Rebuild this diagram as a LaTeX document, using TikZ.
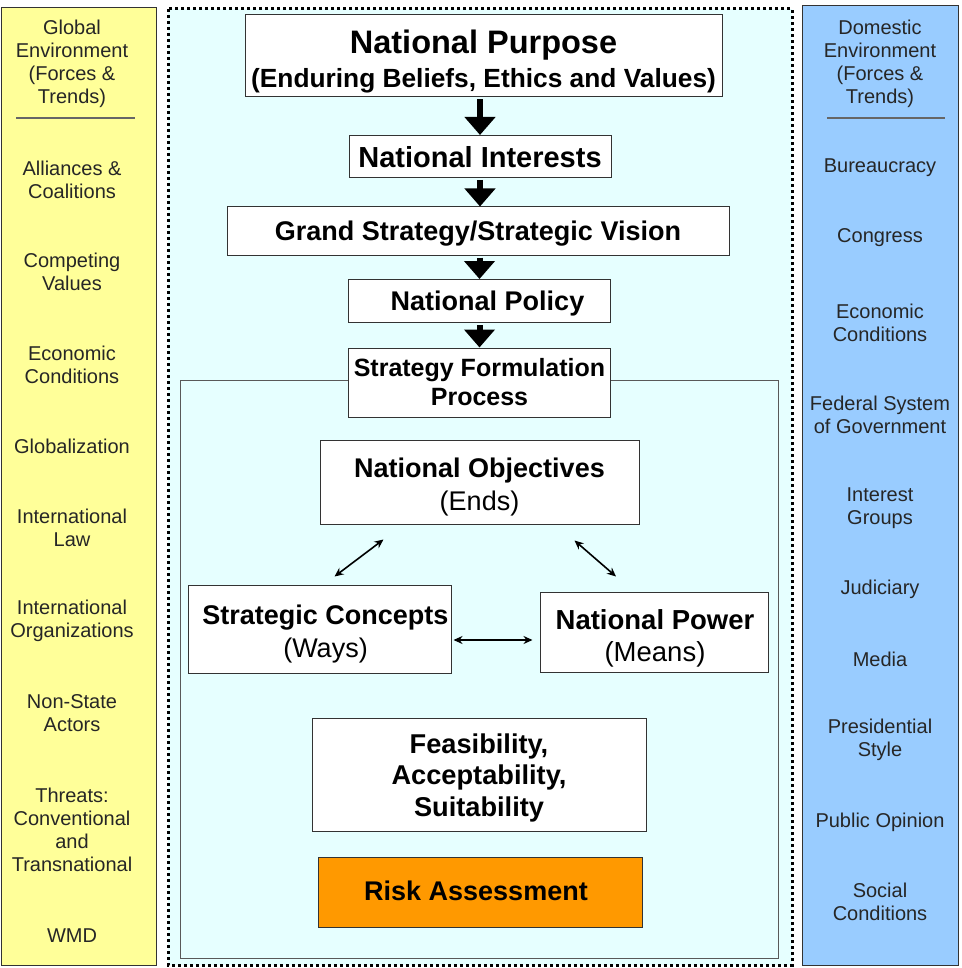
\documentclass[tikz,border=0pt]{standalone}
\usepackage{fontspec}
\setmainfont{Liberation Sans}
\usetikzlibrary{arrows.meta,calc}
\definecolor{panelyellow}{HTML}{FFFF99}
\definecolor{panelblue}{HTML}{99CCFF}
\definecolor{centercyan}{HTML}{E6FFFF}
\definecolor{riskorange}{HTML}{FF9900}
\definecolor{edgegray}{HTML}{333333}
\tikzset{
  bx/.style={draw=edgegray, fill=white, line width=1pt, inner sep=0pt},
  bxt/.style={inner sep=0pt, align=center, font=\bfseries\fontsize{27}{32}\selectfont},
  paneltext/.style={align=center, inner sep=0pt, text=black!85,
    font=\fontsize{20}{23}\selectfont},
  flowarrow/.style={line width=6pt, -{Triangle[width=30pt,length=18pt]}, shorten <=2pt},
  dblarrow/.style={line width=1.6pt, {Stealth[length=9pt,width=8pt]}-{Stealth[length=9pt,width=8pt]}},
}
\begin{document}
\begin{tikzpicture}[x=1pt,y=-1pt]
\useasboundingbox (0,0) rectangle (961,968);
% side panels
\draw[fill=panelyellow, draw=edgegray, line width=1pt] (1,8) rectangle (156,965);
\draw[fill=panelblue, draw=edgegray, line width=1pt] (802,6) rectangle (958,965);
% central area
\fill[centercyan] (168,9) rectangle (792,965);
\draw[line width=3pt, dash pattern=on 3pt off 3pt] (168,9) rectangle (792,965);
\draw[draw=black!65, line width=1pt] (180,380) rectangle (778,958);

% left panel
\node[paneltext] (lhead) at (72,64) {Global\\Environment\\(Forces \&\\Trends)};
\draw[black!60, line width=1.5pt] (16,118) -- (135,118);
\node[paneltext] (l1) at (72,180) {Alliances \&\\Coalitions};
\node[paneltext] (l2) at (72,272) {Competing\\Values};
\node[paneltext] (l3) at (72,365) {Economic\\Conditions};
\node[paneltext] (l4) at (72,446) {Globalization};
\node[paneltext] (l5) at (72,528) {International\\Law};
\node[paneltext] (l6) at (72,621) {International\\Organizations};
\node[paneltext] (l7) at (72,713) {Non-State\\Actors};
\node[paneltext] (l8) at (72,830) {Threats:\\Conventional\\and\\Transnational};
\node[paneltext] (l9) at (72,936) {WMD};

% right panel
\node[paneltext] (rhead) at (880,64) {Domestic\\Environment\\(Forces \&\\Trends)};
\draw[black!60, line width=1.5pt] (827,118) -- (945,118);
\node[paneltext] (r1) at (880,168) {Bureaucracy};
\node[paneltext] (r2) at (880,238) {Congress};
\node[paneltext] (r3) at (880,323) {Economic\\Conditions};
\node[paneltext] (r4) at (880,415) {Federal System\\of Government};
\node[paneltext] (r5) at (880,508) {Interest\\Groups};
\node[paneltext] (r6) at (880,589) {Judiciary};
\node[paneltext] (r7) at (880,659) {Media};
\node[paneltext] (r8) at (880,740) {Presidential\\Style};
\node[paneltext] (r9) at (880,822) {Public Opinion};
\node[paneltext] (r10) at (880,902) {Social\\Conditions};

% central flow boxes
\node[bx, minimum width=477pt, minimum height=82pt] (np) at (483.5,56) {};
\node[bxt] (npT) at ($(np)+(0,5.5)$)
  {{\fontsize{32.5}{36}\selectfont National Purpose}\\[2pt]{\fontsize{26.3}{31}\selectfont (Enduring Beliefs, Ethics and Values)}};
\node[bx, minimum width=262pt, minimum height=42pt] (ni) at (480,156.5) {};
\node[bxt, font=\bfseries\fontsize{29}{34}\selectfont] (niT) at ($(ni)+(0,1)$) {National Interests};
\node[bx, minimum width=502pt, minimum height=48pt] (gs) at (478,231) {};
\node[bxt] (gsT) at ($(gs)+(0,3)$) {Grand Strategy/Strategic Vision};
\node[bx, minimum width=262pt, minimum height=43pt] (npol) at (479.5,301) {};
\node[bxt] (npolT) at ($(npol)+(8,3)$) {National Policy};
\node[bx, minimum width=262pt, minimum height=69pt] (sfp) at (479.5,382.5) {};
\node[bxt, font=\bfseries\fontsize{25}{29}\selectfont] (sfpT) at (sfp) {Strategy Formulation\\Process};

\draw[flowarrow] (np.south -| ni.north) -- (ni.north);
\draw[flowarrow] (ni.south) -- (ni.south |- gs.north);
\draw[flowarrow] (gs.south -| npol.north) -- (npol.north);
\draw[flowarrow] (npol.south) -- (npol.south |- sfp.north);

\node[bx, minimum width=319pt, minimum height=84pt] (nobj) at (479.5,482) {};
\node[bxt, font=\fontsize{27}{33}\selectfont] (nobjT) at ($(nobj)+(0,5)$) {\textbf{National Objectives}\\(Ends)};
\node[bx, minimum width=263pt, minimum height=88pt] (sc) at (319.5,629) {};
\node[bxt, font=\fontsize{27}{33}\selectfont] (scT) at ($(sc)+(6,5)$) {\textbf{Strategic Concepts}\\(Ways)};
\node[bx, minimum width=228pt, minimum height=80pt] (npow) at (654,632) {};
\node[bxt, font=\fontsize{27.5}{32}\selectfont] (npowT) at ($(npow)+(1,6.5)$) {\textbf{National Power}\\(Means)};
\node[bx, minimum width=334pt, minimum height=113pt] (fas) at (479,774.5) {};
\node[bxt, font=\bfseries\fontsize{27.2}{31.5}\selectfont] (fasT) at ($(fas)+(0,3)$) {Feasibility,\\Acceptability,\\Suitability};
\node[bx, fill=riskorange, minimum width=324pt, minimum height=70pt] (risk) at (480,892) {};
\node[bxt] (riskT) at ($(risk)+(-4,-1)$) {Risk Assessment};

% double arrows
\coordinate (ol) at ($(nobj.south west)+(64,15)$);
\coordinate (scn) at ($(sc.north)+(15,-8)$);
\coordinate (or) at ($(nobj.south east)+(-65,16)$);
\coordinate (pwn) at ($(npow.north)+(-38,-15)$);
\coordinate (sce) at ($(sc.east)+(2,11)$);
\coordinate (pww) at ($(npow.west)+(-7,8)$);
\draw[dblarrow] (ol) -- (scn);
\draw[dblarrow] (or) -- (pwn);
\draw[dblarrow] (sce) -- (pww);
\end{tikzpicture}
\end{document}
